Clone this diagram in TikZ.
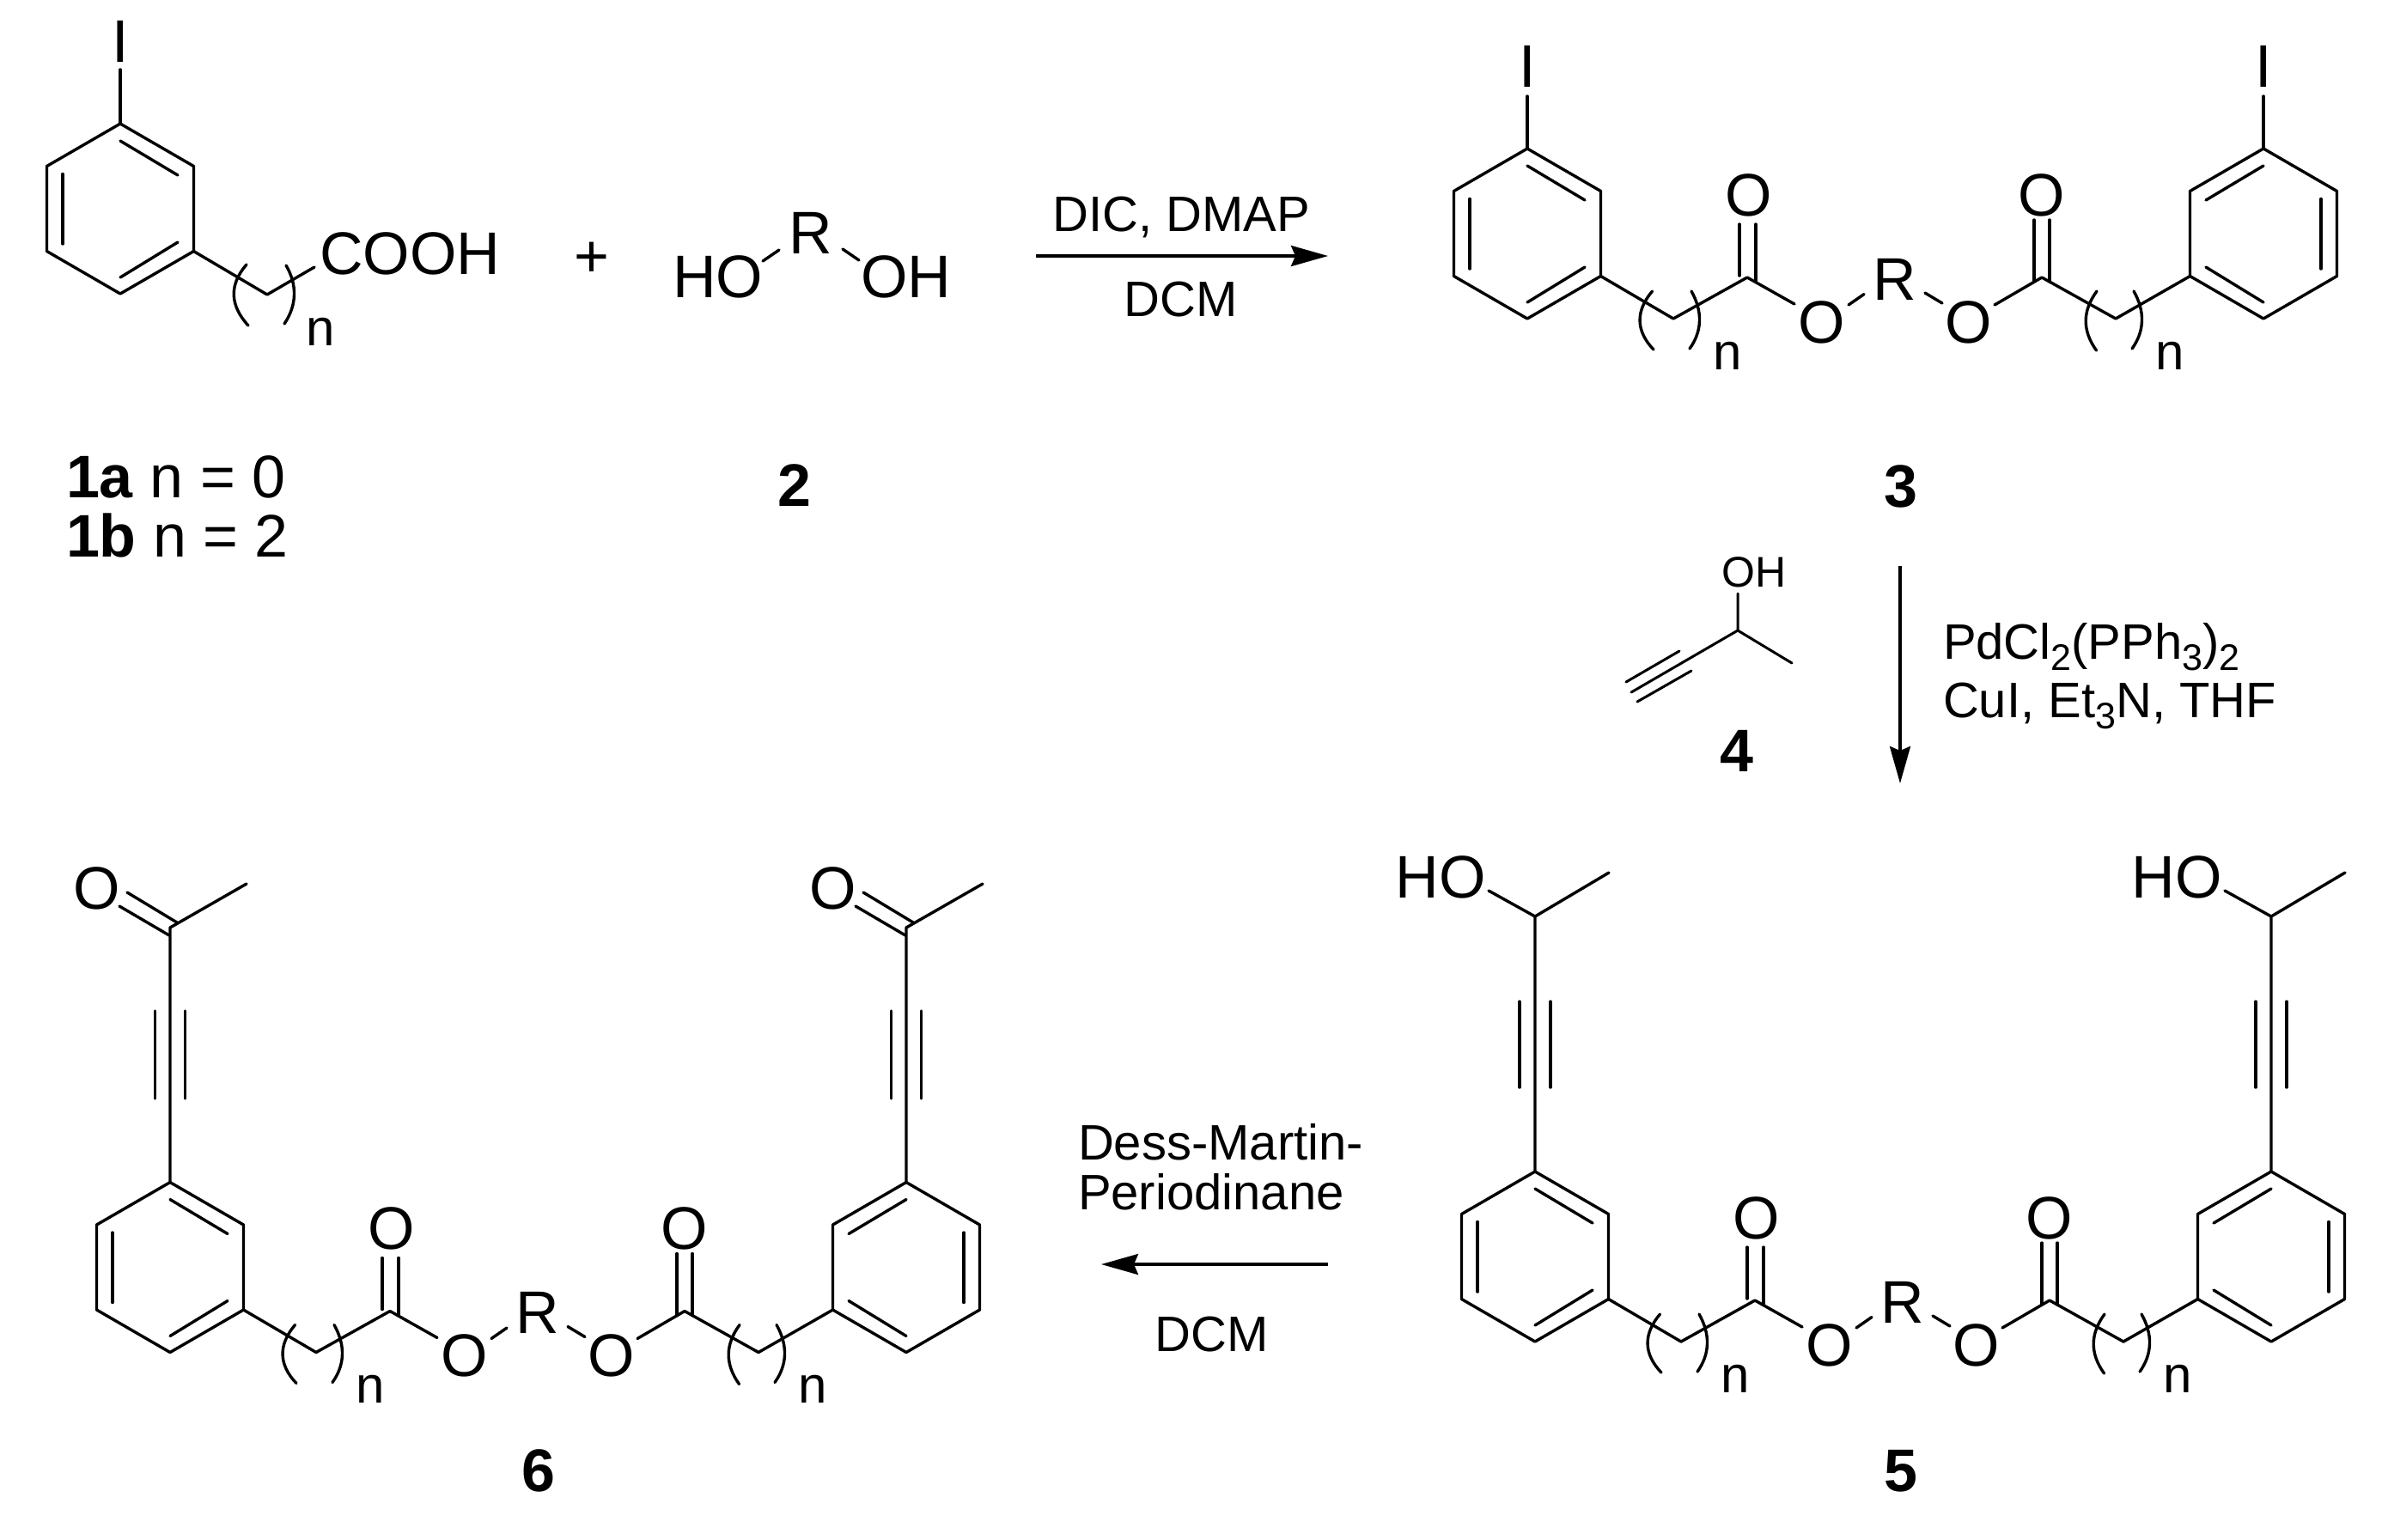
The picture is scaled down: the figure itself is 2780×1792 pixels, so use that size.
\documentclass[tikz,border=0pt]{standalone}
\usepackage{fontspec}
\setmainfont{Liberation Sans}
\usetikzlibrary{arrows.meta}
\newcommand\fA{\fontsize{70}{70}\selectfont}
\newcommand\fB{\fontsize{58}{58}\selectfont}
\newcommand\fC{\fontsize{60}{60}\selectfont}
\newcommand\fD{\fontsize{50}{50}\selectfont}
\newcommand\subs[1]{\raisebox{-13pt}{\fontsize{43}{43}\selectfont #1}}
\tikzset{
  bond/.style={line width=3.4pt,line cap=round,line join=round,black},
  rxn/.style={line width=3.4pt,black,-{Stealth[length=43pt,width=24pt,inset=5pt]}},
  atom/.style={anchor=base,inner sep=0pt,outer sep=0pt,font=\fA,text=black},
  idx/.style={anchor=base,inner sep=0pt,outer sep=0pt,font=\fC,text=black},
  cpd/.style={anchor=base,inner sep=0pt,outer sep=0pt,font=\fA\bfseries,text=black},
  cond/.style={anchor=base,inner sep=0pt,outer sep=0pt,font=\fB,text=black},
  pics/arene/.style={code={
    \coordinate (a) at (0,-99);
    \coordinate (b) at (85.5,-49.5);
    \coordinate (c) at (85.5,49.5);
    \coordinate (d) at (0,99);
    \coordinate (e) at (-85.5,49.5);
    \coordinate (f) at (-85.5,-49.5);
    \draw[bond] (a)--(b)--(c)--(d)--(e)--(f)--cycle;
    \draw[bond] (0,-79)--(67,-39);
    \draw[bond] (-67,-40.5)--(-67,41);
    \draw[bond] (67,39)--(0,80);
  }},
  pics/diester/.style={code={
    \pic (l) at (1778,272) {arene};
    \pic[xscale=-1] (r) at (2635,272) {arene};
    \coordinate (c1) at (1948,371);
    \coordinate (c2) at (2034,323);
    \coordinate (c3) at (2377,323);
    \coordinate (c4) at (2463,371);
    \coordinate (e1) at (2089,354);
    \coordinate (e2) at (2152,355);
    \coordinate (e3) at (2170,342.5);
    \coordinate (e4) at (2241,341);
    \coordinate (e5) at (2261,353);
    \coordinate (e6) at (2322,355);
    \node[atom] (o1) at (2036,251) {O};
    \node[atom] (o2) at (2377,251) {O};
    \node[atom] (o3) at (2120.5,399) {O};
    \node[atom] (o4) at (2291.5,399) {O};
    \node[atom] (rg) at (2206,349) {R};
    \node[idx] (n1) at (2011,430) {n};
    \node[idx] (n2) at (2526,430) {n};
    \draw[bond] (lc)--(c1)--(c2)--(e1);
    \draw[bond] (rc)--(c4)--(c3)--(e6);
    \draw[bond] (e2)--(e3);
    \draw[bond] (e4)--(e5);
    \draw[bond] (2025,261)--(2025,321);
    \draw[bond] (2044,261)--(2044,327);
    \draw[bond] (2368,256)--(2368,328);
    \draw[bond] (2386,256)--(2386,328);
    \draw[bond] (1923.5,339) .. controls (1904,362) and (1904,385) .. (1925,407);
    \draw[bond] (1969,339) .. controls (1982,362) and (1982,385) .. (1967,406);
    \draw[bond] (2441,339) .. controls (2424,362) and (2424,385) .. (2440.5,408);
    \draw[bond] (2484,339) .. controls (2497,362) and (2497,385) .. (2482,406);
  }},
  pics/butynol/.style={code={
    \coordinate (base) at (0,0);
    \coordinate (c) at (0,-297);
    \coordinate (me) at (86,-348);
    \coordinate (oh) at (-54,-327);
    \node[atom] (ho) at (-110,-319) {HO};
    \draw[bond] (base)--(c)--(me);
    \draw[bond] (c)--(oh);
    \draw[bond] (-18,-198)--(-18,-98);
    \draw[bond] (18,-198)--(18,-98);
  }},
  pics/ynone/.style={code={
    \coordinate (base) at (0,0);
    \coordinate (c) at (0,-296.5);
    \coordinate (me) at (89,-347.5);
    \node[atom] (ox) at (-85,-318.5) {O};
    \draw[bond] (base)--(c)--(me);
    \draw[bond] (-50,-337.5)--(8,-302.5);
    \draw[bond] (-59,-321.5)--(-1,-287.5);
    \draw[bond] (-17.5,-199.5)--(-17.5,-97.5);
    \draw[bond] (17.5,-199.5)--(17.5,-97.5);
  }}
}
\begin{document}
\begin{tikzpicture}[x=1pt,y=-1pt]
\fill[white] (0,0) rectangle (2780,1792);
\useasboundingbox (0,0) rectangle (2780,1792);

% compound 1
\pic (p) at (140,243) {arene};
\coordinate (pi) at (140,81);
\node[atom] (pI) at (140,72) {I};
\coordinate (pc1) at (311,343);
\coordinate (pc2) at (366,311);
\node[atom,anchor=base west] (cooh) at (372,319) {COOH};
\node[idx] (pn) at (373,402) {n};
\draw[bond] (pa)--(pi);
\draw[bond] (pc)--(pc1)--(pc2);
\draw[bond] (287,308) .. controls (267,331) and (267,355) .. (289,379);
\draw[bond] (333,309) .. controls (346,331) and (346,355) .. (331,377);
\node[cpd,font=\fA,anchor=base west] (la) at (77,579) {\textbf{1a} n = 0};
\node[cpd,font=\fA,anchor=base west] (lb) at (77,648) {\textbf{1b} n = 2};

% plus and diol 2
\node[atom] (plus) at (689,322) {+};
\node[atom] (ho2) at (835.5,346) {HO};
\node[atom] (r2) at (944,295) {R};
\node[atom] (oh2) at (1055,346) {OH};
\coordinate (b2a) at (888,304);
\coordinate (b2b) at (907,291);
\coordinate (b2c) at (981,290);
\coordinate (b2d) at (1000,303);
\draw[bond] (b2a)--(b2b);
\draw[bond] (b2c)--(b2d);
\node[cpd] (l2) at (925,589) {2};

% arrow 1
\coordinate (a1s) at (1206,298);
\coordinate (a1e) at (1546,298);
\draw[rxn] (a1s)--(a1e);
\node[cond] (t1a) at (1375,269) {DIC, DMAP};
\node[cond] (t1b) at (1375,368) {DCM};

% compound 3
\pic (m) at (0,0) {diester};
\node[atom] (mIl) at (1778,101) {I};
\node[atom] (mIr) at (2635,101) {I};
\coordinate (mil) at (1778,112);
\coordinate (mir) at (2635,112);
\draw[bond] (mla)--(mil);
\draw[bond] (mra)--(mir);
\node[cpd] (l3) at (2213,590) {3};

% compound 4
\coordinate (k) at (2023,734);
\coordinate (kt) at (2023,691);
\coordinate (km) at (2086,772);
\coordinate (ke) at (1899,806);
\node[atom,font=\fD] (koh) at (2042,683) {OH};
\draw[bond,line width=3pt] (kt)--(k)--(km);
\draw[bond,line width=3pt] (k)--(ke);
\draw[bond,line width=3pt] (1955,758)--(1893,794);
\draw[bond,line width=3pt] (1969,781)--(1906,817);
\node[cpd] (l4) at (2022,898) {4};

% arrow 2
\coordinate (a2s) at (2212,659);
\coordinate (a2e) at (2212,912);
\draw[rxn] (a2s)--(a2e);
\node[cond,anchor=base west] (t2a) at (2262,767) {PdCl\subs{2}(PPh\subs{3})\subs{2}};
\node[cond,anchor=base west] (t2b) at (2262,835) {CuI, Et\subs{3}N, THF};

% compound 5
\pic (u) at (9,1191) {diester};
\pic (ua) at (ula) {butynol};
\pic (ub) at (ura) {butynol};
\node[cpd] (l5) at (2213,1736) {5};

% arrow 3
\coordinate (a3s) at (1546,1472);
\coordinate (a3e) at (1282,1472);
\draw[rxn] (a3s)--(a3e);
\node[cond,anchor=base west] (t3a) at (1255,1350) {Dess-Martin-};
\node[cond,anchor=base west] (t3b) at (1255,1408) {Periodinane};
\node[cond] (t3c) at (1411,1573) {DCM};

% compound 6
\pic (w) at (-1580,1203.5) {diester};
\pic (wa) at (wla) {ynone};
\pic (wb) at (wra) {ynone};
\node[cpd] (l6) at (627,1736) {6};
\end{tikzpicture}
\end{document}
